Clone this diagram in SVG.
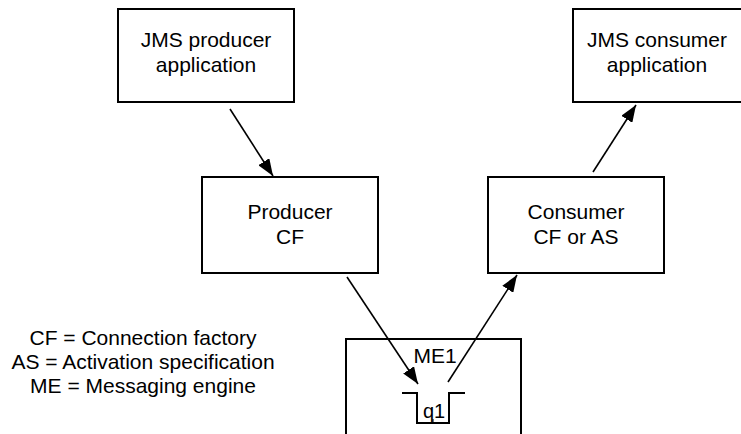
<svg xmlns="http://www.w3.org/2000/svg" width="741" height="434" viewBox="0 0 741 434">
<style>
.box{fill:#fff;stroke:#000;stroke-width:2}
.t{font-family:"Liberation Sans",Arial,sans-serif;font-size:21px;fill:#000;text-anchor:middle}
.c{stroke:#000;stroke-width:1.6;fill:none;marker-end:url(#ah)}
.ln{stroke:#000;stroke-width:2;fill:none}
</style>
<defs>
<marker id="ah" markerUnits="userSpaceOnUse" viewBox="0 0 17 13" refX="17" refY="6.5" markerWidth="17" markerHeight="13" orient="auto">
<path d="M0,0 L17,6.5 L0,13 z" fill="#000"/>
</marker>
</defs>
<rect width="741" height="434" fill="#fff"/>
<g id="producer-app">
<rect class="box" x="118" y="9" width="176" height="93"/>
<text class="t" x="206" y="47">JMS producer</text>
<text class="t" x="206" y="72">application</text>
</g>
<g id="consumer-app">
<rect class="box" x="573" y="9" width="180" height="93"/>
<text class="t" x="657" y="47">JMS consumer</text>
<text class="t" x="657" y="72">application</text>
</g>
<g id="producer-cf">
<rect class="box" x="202" y="177" width="176" height="96"/>
<text class="t" x="290" y="219">Producer</text>
<text class="t" x="290" y="244">CF</text>
</g>
<g id="consumer-cf">
<rect class="box" x="488" y="177" width="176" height="96"/>
<text class="t" x="576" y="219">Consumer</text>
<text class="t" x="576" y="244">CF or AS</text>
</g>
<g id="me1">
<path class="ln" d="M346,440 V339 H521 V440"/>
<text class="t" x="435" y="363">ME1</text>
</g>
<g id="q1">
<path class="ln" d="M402,393 H417 V423 H449 V393 H465"/>
<line x1="433" y1="419" x2="433" y2="423" stroke="#000" stroke-width="1"/>
<text class="t" x="434" y="418" style="font-size:20px">q1</text>
</g>
<g id="legend">
<text class="t" x="143" y="345">CF = Connection factory</text>
<text class="t" x="143" y="369">AS = Activation specification</text>
<text class="t" x="143" y="393">ME = Messaging engine</text>
</g>
<g id="connectors">
<line class="c" x1="230" y1="109" x2="273" y2="176"/>
<line class="c" x1="347" y1="277" x2="418" y2="384"/>
<line class="c" x1="448" y1="382" x2="517" y2="275"/>
<line class="c" x1="593" y1="172" x2="636" y2="105"/>
</g>
</svg>
